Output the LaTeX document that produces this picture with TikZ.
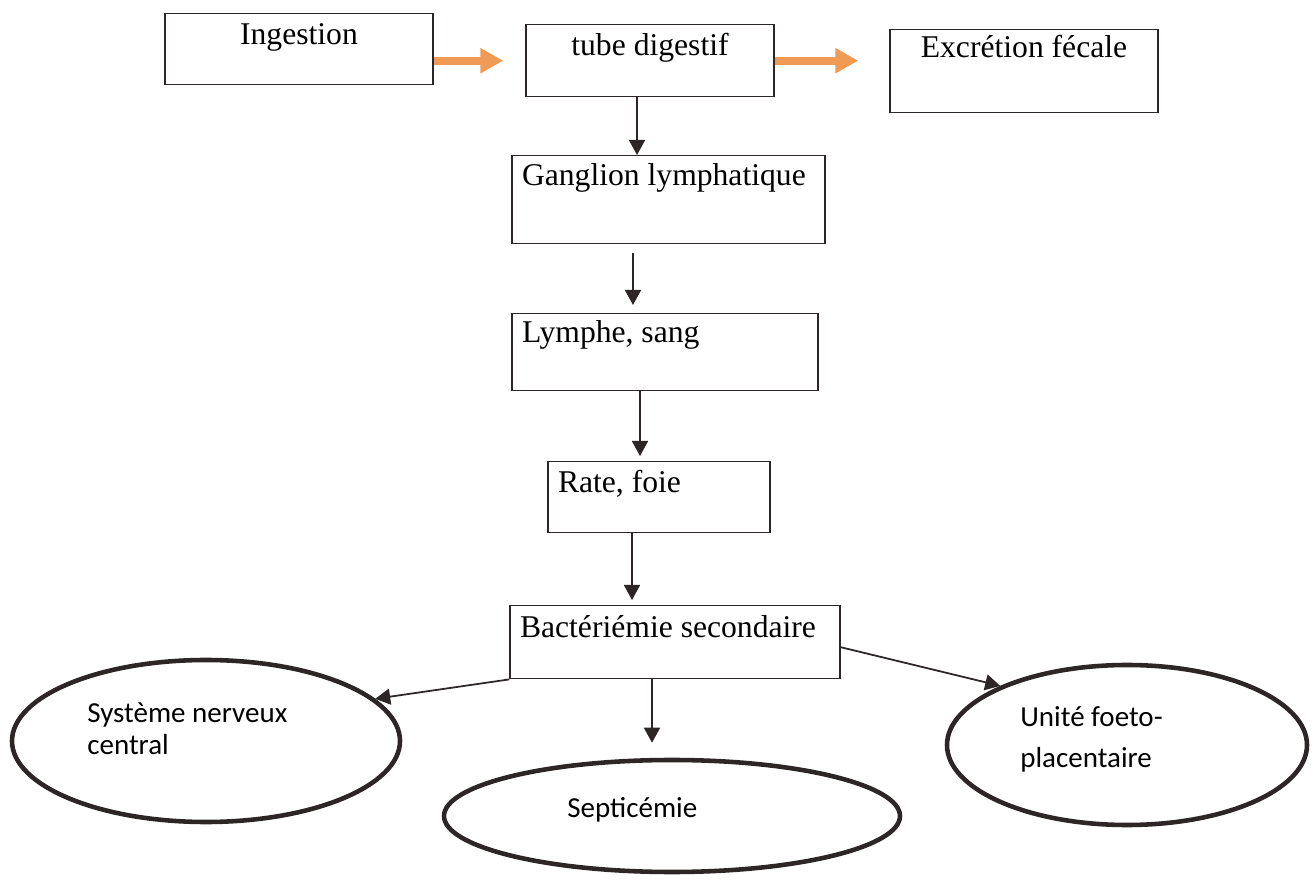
\documentclass[tikz,border=0pt]{standalone}
\usepackage{fontspec}
\setmainfont{Liberation Serif}
\newfontfamily\carlito{Carlito}
\usetikzlibrary{arrows.meta,shapes.geometric}
\definecolor{orangeF}{RGB}{240,155,85}
\definecolor{trait}{RGB}{45,38,38}
\begin{document}
\begin{tikzpicture}
		\tikzset{etape/.style = {shape=rectangle, draw=trait, line width=0.8pt, inner xsep=0.2cm, inner ysep=0pt, anchor=north, font=\fontsize{18}{21}\selectfont}}
		\tikzset{issue/.style = {shape=ellipse, draw=trait, line width=2.6pt, inner sep=0pt}}
		\tikzset{texte/.style = {anchor=base west, inner sep=0pt, align=flush left, font=\carlito\fontsize{16.5}{18.7}\selectfont}}
		\tikzset{fleche/.style = {draw=trait, line width=1pt, -{Triangle[length=0.3cm,width=0.32cm]}}}
		\tikzset{flecheorange/.style = {draw=orangeF, line width=0.16cm, -{Triangle[length=0.46cm,width=0.48cm]}}}

		\useasboundingbox (0,0) rectangle (26.3,17.58);

		\node[etape, text width=4.96cm, align=flush center, text height=0.62cm, text depth=0.8cm] (E_1) at (5.98,17.32) {Ingestion};
		\node[etape, text width=4.56cm, align=flush center, text height=0.62cm, text depth=0.82cm] (E_2) at (13,17.1) {tube digestif};
		\node[etape, text width=4.96cm, align=flush center, text height=0.56cm, text depth=1.1cm] (E_3) at (20.48,17) {Excrétion fécale};
		\node[etape, text width=5.86cm, align=flush left, text height=0.6cm, text depth=1.16cm] (E_4) at (13.37,14.48) {Ganglion lymphatique};
		\node[etape, text width=5.72cm, align=flush left, text height=0.58cm, text depth=0.96cm] (E_5) at (13.3,11.32) {Lymphe, sang};
		\node[etape, text width=4.04cm, align=flush left, text height=0.62cm, text depth=0.8cm] (E_6) at (13.18,8.36) {Rate, foie};
		\node[etape, text width=6.2cm, align=flush left, text height=0.64cm, text depth=0.82cm] (E_7) at (13.5,5.48) {Bactériémie secondaire};

		\node[issue, minimum width=7.76cm, minimum height=3.24cm] (C_1) at (4.12,2.76) {};
		\node[issue, minimum width=9.12cm, minimum height=2.24cm] (C_2) at (13.44,1.26) {};
		\node[issue, minimum width=7.2cm, minimum height=3.2cm] (C_3) at (22.54,2.68) {};

		% base = last line
		\node[texte] (T_1) at (1.74,2.48) {Système nerveux\\central};
		\node[texte] (T_2) at (11.34,1.24) {Septicémie};
		\node[texte, font=\carlito\fontsize{16.5}{23.5}\selectfont] (T_3) at (20.4,2.22) {Unité foeto-\\placentaire};

		\draw[flecheorange, shorten >=0.44cm] (E_1.east |- E_2.west)--(E_2.west);
		\draw[flecheorange, shorten >=0.62cm] (E_2.east)--(E_2.east -| E_3.west);

		\draw[fleche] ([xshift=-0.26cm]E_2.south)--([xshift=-0.26cm]E_2.south |- E_4.north);
		\draw[fleche, shorten <=0.18cm, shorten >=0.16cm] ([xshift=-0.71cm]E_4.south)--([xshift=-0.71cm]E_4.south |- E_5.north);
		\draw[fleche, shorten >=0.1cm] ([xshift=-0.5cm]E_5.south)--([xshift=-0.5cm]E_5.south |- E_6.north);
		\draw[fleche, shorten >=0.1cm] ([xshift=-0.54cm]E_6.south)--([xshift=-0.54cm]E_6.south |- E_7.north);
		\draw[fleche, shorten >=0.3cm] ([xshift=-0.46cm]E_7.south)--([xshift=-0.46cm]E_7.south |- C_2.north);
		\draw[fleche] (E_7.south west)--(C_1.14);
		\draw[fleche] ([yshift=-0.1cm]E_7.east)--(C_3.155);

	\end{tikzpicture}
\end{document}
